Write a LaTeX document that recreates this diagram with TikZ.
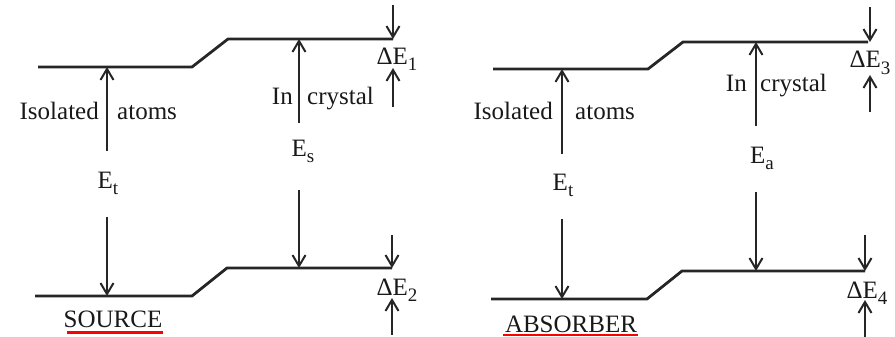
\documentclass[tikz,border=0pt]{standalone}
\usepackage{fontspec}
\setmainfont{Liberation Serif}
\usetikzlibrary{arrows.meta,positioning}
\newcommand{\lowidx}[1]{\raisebox{-6pt}{\fontsize{19}{19}\selectfont #1}}

\begin{document}
\begin{tikzpicture}[
  x=1pt, y=-1pt,
  every node/.style={font=\fontsize{25}{30}\selectfont, inner sep=0pt, text=black!90},
  level/.style={draw=black!85, line width=2.8pt},
  arr/.style={draw=black!85, line width=2pt, -{Straight Barb[length=11pt,width=13pt,line width=2pt]}},
  uline/.style={draw=red, line width=3pt}
]
\useasboundingbox (0,0) rectangle (895,337);

% source levels
\coordinate (sT1) at (38,67);  \coordinate (sT2) at (192,67);
\coordinate (sT3) at (228,39); \coordinate (sT4) at (393,39);
\coordinate (sB1) at (35,296); \coordinate (sB2) at (192,296);
\coordinate (sB3) at (227,268); \coordinate (sB4) at (392,268);
\draw[level] (sT1) -- (sT2) -- (sT3) -- (sT4);
\draw[level] (sB1) -- (sB2) -- (sB3) -- (sB4);

\node[anchor=base east] (isoS) at (99,120) {Isolated};
\node[anchor=base west] (atmS) at (117,120) {atoms};
\node[anchor=base east] (inS) at (293,104) {In};
\node[anchor=base west] (cryS) at (307,104) {crystal};
\node[anchor=base] (EtS) at (108,188) {E\lowidx{t}};
\node[anchor=base] (EsS) at (303,156) {E\lowidx{s}};
\node[anchor=base] (dE1) at (397,65) {ΔE\lowidx{1}};
\node[anchor=base] (dE2) at (397,295) {ΔE\lowidx{2}};
\node[anchor=base] (src) at (113,327) {SOURCE};

\coordinate (EtSa) at (107,151); \coordinate (EtSt) at (107,67);
\coordinate (EtSb) at (107,217); \coordinate (EtSg) at (107,296);
\coordinate (EsSa) at (299,123); \coordinate (EsSt) at (299,39);
\coordinate (EsSb) at (299,190); \coordinate (EsSg) at (299,268);
\coordinate (d1a) at (393,5);   \coordinate (d1b) at (393,107); \coordinate (d1c) at (393,68);
\coordinate (d2a) at (392,235); \coordinate (d2b) at (392,335); \coordinate (d2c) at (392,298);
\draw[arr] (EtSa) -- (EtSt);
\draw[arr] (EtSb) -- (EtSg);
\draw[arr] (EsSa) -- (EsSt);
\draw[arr] (EsSb) -- (EsSg);
\draw[arr] (d1a) -- (sT4);
\draw[arr] (d1b) -- (d1c);
\draw[arr] (d2a) -- (sB4);
\draw[arr] (d2b) -- (d2c);
\coordinate (ulS1) at (67,332); \coordinate (ulS2) at (163,332);
\draw[uline] (ulS1) -- (ulS2);

% absorber levels
\coordinate (aT1) at (493,69);  \coordinate (aT2) at (648,69);
\coordinate (aT3) at (683,42);  \coordinate (aT4) at (868,42);
\coordinate (aB1) at (491,299); \coordinate (aB2) at (647,299);
\coordinate (aB3) at (682,271); \coordinate (aB4) at (865,271);
\draw[level] (aT1) -- (aT2) -- (aT3) -- (aT4);
\draw[level] (aB1) -- (aB2) -- (aB3) -- (aB4);

\node[anchor=base east] (isoA) at (553,120) {Isolated};
\node[anchor=base west] (atmA) at (575,120) {atoms};
\node[anchor=base east] (inA) at (747,92) {In};
\node[anchor=base west] (cryA) at (760,92) {crystal};
\node[anchor=base] (EtA) at (563,190) {E\lowidx{t}};
\node[anchor=base] (EaA) at (762,163) {E\lowidx{a}};
\node[anchor=base] (dE3) at (870,68) {ΔE\lowidx{3}};
\node[anchor=base] (dE4) at (867,298) {ΔE\lowidx{4}};
\node[anchor=base] (abs) at (571,332) {ABSORBER};

\coordinate (EtAa) at (562,154); \coordinate (EtAt) at (562,69);
\coordinate (EtAb) at (562,219); \coordinate (EtAg) at (562,299);
\coordinate (EaAa) at (756,126); \coordinate (EaAt) at (756,42);
\coordinate (EaAb) at (756,192); \coordinate (EaAg) at (756,271);
\coordinate (d3a) at (870,7);   \coordinate (d3t) at (870,42);
\coordinate (d3b) at (870,112); \coordinate (d3c) at (870,75);
\coordinate (d4a) at (865,235); \coordinate (d4b) at (865,337); \coordinate (d4c) at (865,300);
\draw[arr] (EtAa) -- (EtAt);
\draw[arr] (EtAb) -- (EtAg);
\draw[arr] (EaAa) -- (EaAt);
\draw[arr] (EaAb) -- (EaAg);
\draw[arr] (d3a) -- (d3t);
\draw[arr] (d3b) -- (d3c);
\draw[arr] (d4a) -- (aB4);
\draw[arr] (d4b) -- (d4c);
\coordinate (ulA1) at (503,335); \coordinate (ulA2) at (638,335);
\draw[uline, line width=2pt] (ulA1) -- (ulA2);
\end{tikzpicture}
\end{document}
